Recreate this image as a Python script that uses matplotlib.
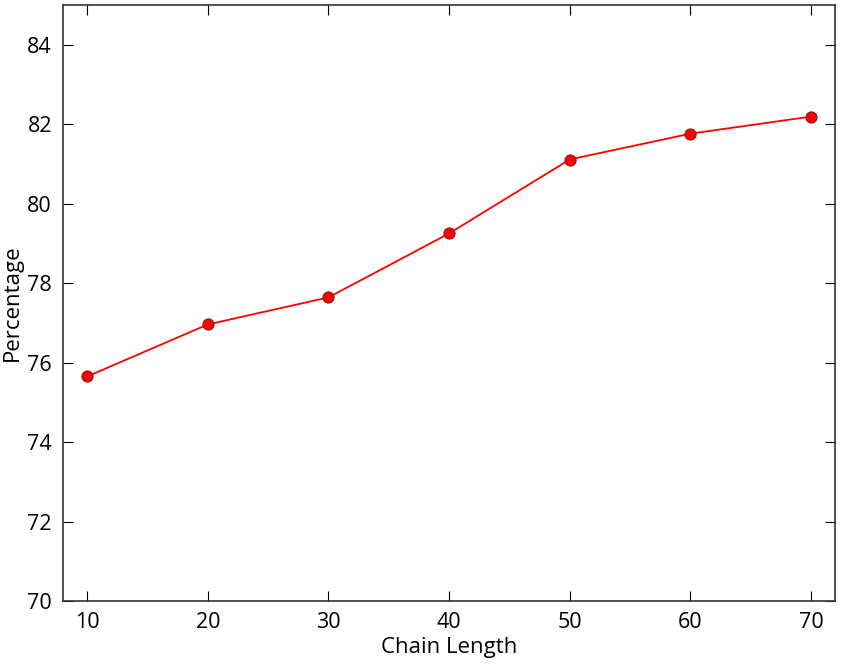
import matplotlib.pyplot as plt

# chain length vs percentage
chain_length = [10, 20, 30, 40, 50, 60, 70]
percentage = [75.65, 76.96, 77.64, 79.25, 81.11, 81.76, 82.19]

plt.rcParams['font.family'] = ['Open Sans', 'DejaVu Sans']

fig = plt.figure(figsize=(8.41, 6.66), dpi=100)
ax = fig.add_axes([0.075, 0.0976, 0.918, 0.895])
ax.plot(chain_length, percentage, color='red', linewidth=1.3, marker='o',
        markersize=8, markerfacecolor='red', markeredgecolor='#8b1a1a', markeredgewidth=0.8)
ax.set_xlim(8, 72)
ax.set_ylim(70, 85)
ax.set_xticks(chain_length)
ax.set_yticks(range(70, 86, 2))
ax.tick_params(direction='in', length=7, width=0.8, top=True, right=True, labelsize=15.5, pad=8)
for s in ax.spines.values():
    s.set_linewidth(1.2)
    s.set_color('#333333')
ax.set_xlabel('Chain Length', fontsize=16, labelpad=3)
ax.set_ylabel('Percentage', fontsize=16, labelpad=3)
fig.savefig('out.png', dpi=100)
